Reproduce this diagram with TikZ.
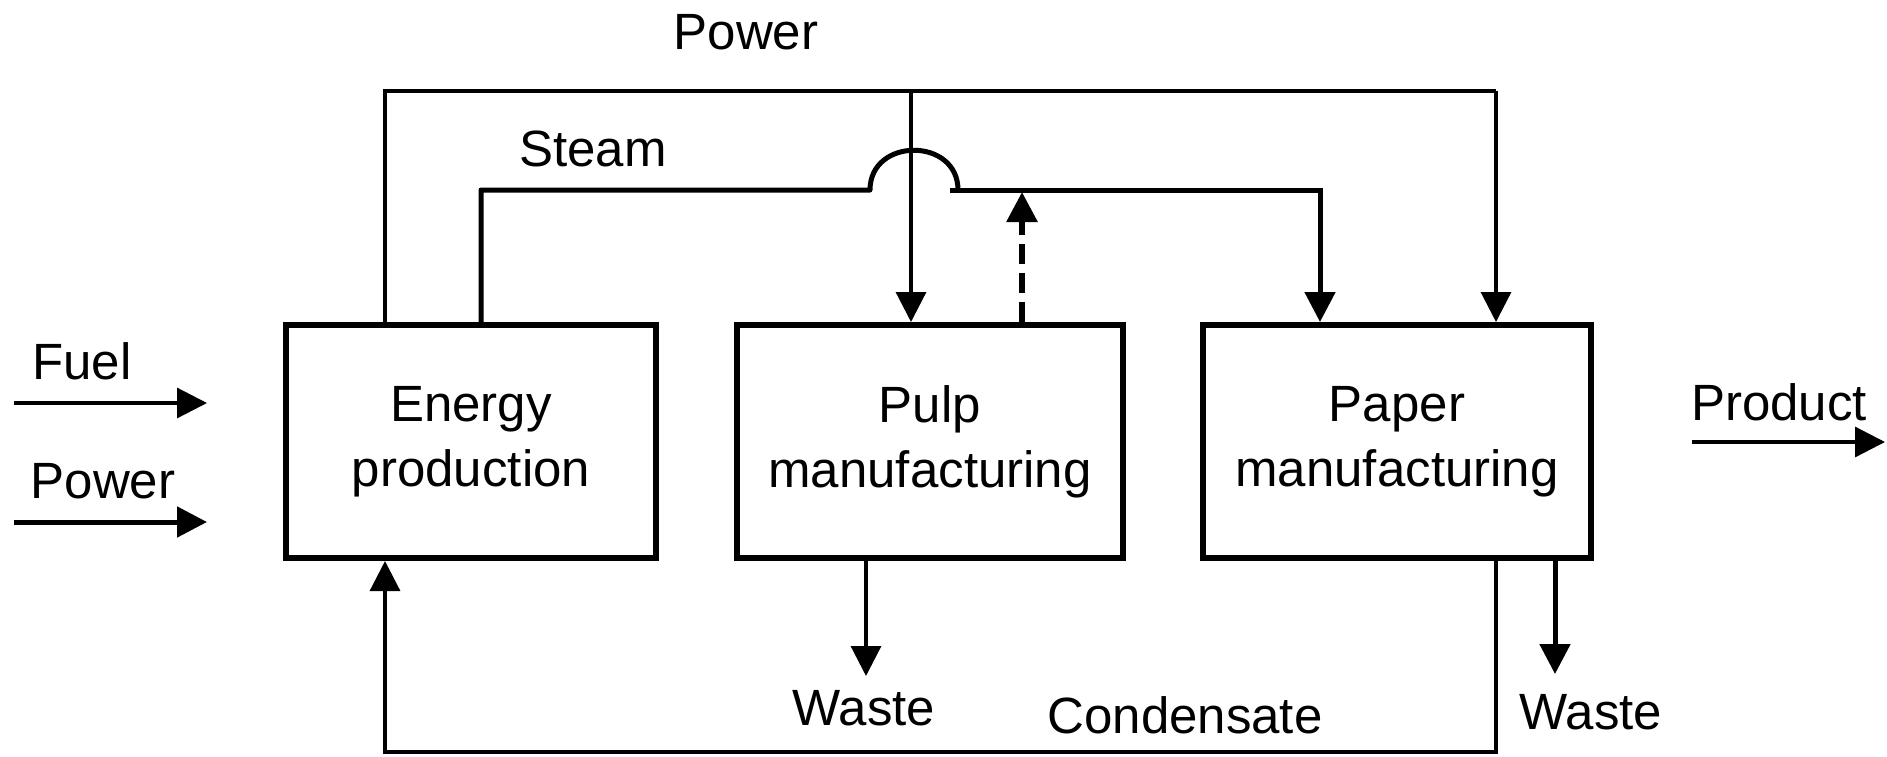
\documentclass[tikz,border=0pt]{standalone}
\usepackage{fontspec}
\setmainfont{Liberation Sans}
\usetikzlibrary{arrows.meta,calc}
\begin{document}
\begin{tikzpicture}[x=1pt,y=-1pt,
  blk/.style={draw,line width=6pt,minimum height=233pt,align=center,inner sep=0pt,font=\fontsize{51}{65}\selectfont},
  lbl/.style={inner sep=0pt,font=\fontsize{51}{62}\selectfont},
  thinline/.style={line width=3.2pt},
  thickline/.style={line width=5pt},
  arr/.style={-{Triangle[length=30pt,width=30pt]}},
  dashline/.style={line width=6pt,dash pattern=on 20pt off 9pt}]
\useasboundingbox (0,0) rectangle (1887,756);
% boxes
\node[blk,minimum width=370pt] (energy) at (471,441.5) {Energy\\production};
\node[blk,minimum width=386pt] (pulp) at (930,441.5) {Pulp\\manufacturing};
\node[blk,minimum width=388pt] (paper) at (1397,441.5) {Paper\\manufacturing};
% labels
\node[lbl] (lpowtop) at (746,32) {Power};
\node[lbl] (lsteam) at (593,149) {Steam};
\node[lbl] (lfuel) at (82,361) {Fuel};
\node[lbl] (lpowin) at (103,481) {Power};
\node[lbl] (lprod) at (1779,402) {Product};
\node[lbl] (lwaste1) at (864,708) {Waste};
\node[lbl] (lwaste2) at (1591,712) {Waste};
\node[lbl] (lcond) at (1185,715) {Condensate};
% coordinates
\coordinate (fuelS) at (14,403);
\coordinate (fuelE) at (207,403);
\coordinate (powS) at (14,522);
\coordinate (powE) at (207,522);
\coordinate (prodS) at (1692,442);
\coordinate (prodE) at (1885,442);
\coordinate (w1) at (866,676);
\coordinate (w2) at (1555,674);
% inputs/outputs
\draw[thinline,arr] (fuelS) -- (fuelE);
\draw[thickline,arr] (powS) -- (powE);
\draw[thinline,arr] (prodS) -- (prodE);
% power distribution
\draw[thinline] (energy.north -| 385,0) -- (385,91) -- (1496,91);
\draw[thinline,arr] (1496,91) -- (paper.north -| 1496,0);
\draw[thinline,arr] (911,91) -- (pulp.north -| 911,0);
% steam
\draw[thickline,line join=round] (energy.north -| 481,0) -- (481,190) -- (870,190)
   .. controls (870,137) and (958,137) .. (958,190);
\draw[thickline,arr] (950,190) -- (1320,190) -- (paper.north -| 1320,0);
% dashed return
\draw[dashline,-{Triangle[length=30pt,width=30pt]}] (pulp.north -| 1022,0) -- (1022,192);
% wastes
\draw[thinline,arr] (pulp.south -| 866,0) -- (w1);
\draw[thickline,arr] (paper.south -| 1555,0) -- (w2);
% condensate
\draw[thinline,arr] (paper.south -| 1496,0) -- (1496,752) -- (385,752) -- (energy.south -| 385,0);
\end{tikzpicture}
\end{document}
